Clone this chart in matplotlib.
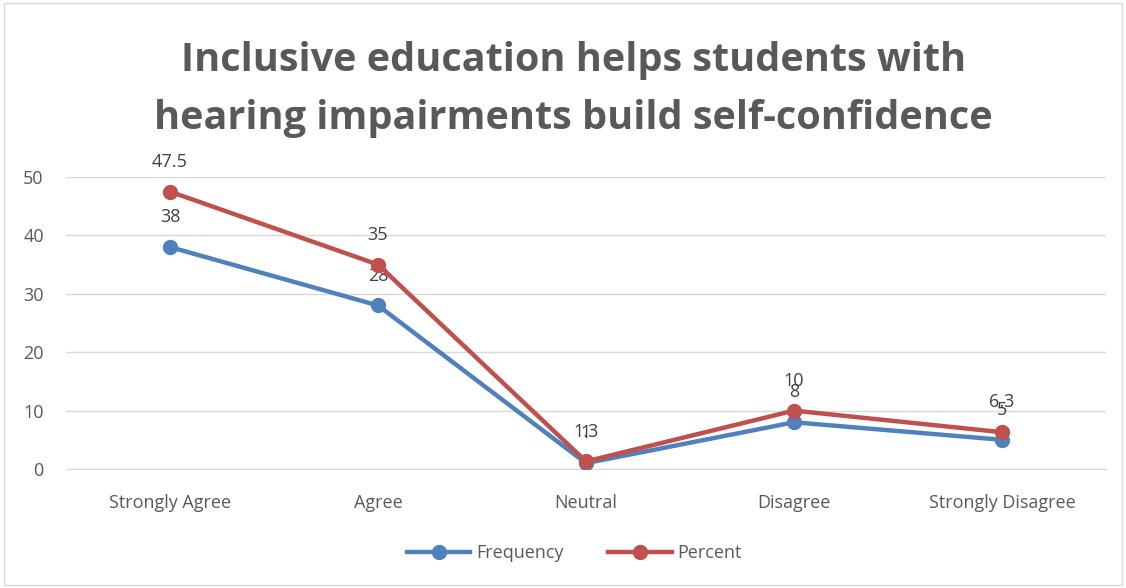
import matplotlib.pyplot as plt
from matplotlib.patches import Rectangle

categories = ["Strongly Agree", "Agree", "Neutral", "Disagree", "Strongly Disagree"]
frequency = [38, 28, 1, 8, 5]
percent = [47.5, 35, 1.3, 10, 6.3]
freq_labels = ["38", "28", "1", "8", "5"]
pct_labels = ["47.5", "35", "1.3", "10", "6.3"]

gray = "#595959"
plt.rcParams['font.family'] = ['Open Sans', 'DejaVu Sans']

fig = plt.figure(figsize=(11.26, 5.88), dpi=100)
ax = fig.add_axes([66 / 1126, 1 - 469 / 588, (1106 - 66) / 1126, 292 / 588])

x = list(range(len(categories)))
ax.plot(x, frequency, color="#4F81BD", lw=3.2, marker="o", ms=10, label="Frequency", zorder=3)
ax.plot(x, percent, color="#C0504D", lw=3.2, marker="o", ms=10, label="Percent", zorder=4)

for i in x:
    ax.annotate(freq_labels[i], (i, frequency[i]), xytext=(0, 15), textcoords="offset points",
                ha="center", va="bottom", fontsize=13, color="#404040")
    ax.annotate(pct_labels[i], (i, percent[i]), xytext=(0, 15), textcoords="offset points",
                ha="center", va="bottom", fontsize=13, color="#404040")

ax.set_xlim(-0.5, 4.5)
ax.set_ylim(0, 50)
ax.set_yticks([0, 10, 20, 30, 40, 50])
ax.set_xticks(x)
ax.set_xticklabels(categories)
ax.tick_params(length=0, labelsize=13, labelcolor=gray)
ax.tick_params(axis="x", pad=18)
ax.tick_params(axis="y", pad=16)
ax.grid(axis="y", color="#D9D9D9", lw=1)
ax.set_axisbelow(True)
for s in ["top", "right", "left"]:
    ax.spines[s].set_visible(False)
ax.spines["bottom"].set_color("#D9D9D9")

fig.text(0.509, 1 - 60 / 588, "Inclusive education helps students with",
         ha="center", va="center", fontsize=28.5, fontweight="bold", color=gray)
fig.text(0.509, 1 - 118 / 588, "hearing impairments build self-confidence",
         ha="center", va="center", fontsize=28.5, fontweight="bold", color=gray)

fig.legend(loc="center", bbox_to_anchor=(0.51, 1 - 553 / 588), ncol=2, frameon=False,
           fontsize=13, labelcolor=gray, handlelength=3.5, columnspacing=2.5, handletextpad=0.3)

fig.patches.append(Rectangle((4 / 1126, 3 / 588), 1118 / 1126, 582 / 588, transform=fig.transFigure,
                             fill=False, edgecolor="#D9D9D9", lw=1))

fig.savefig("out.png", dpi=100)
